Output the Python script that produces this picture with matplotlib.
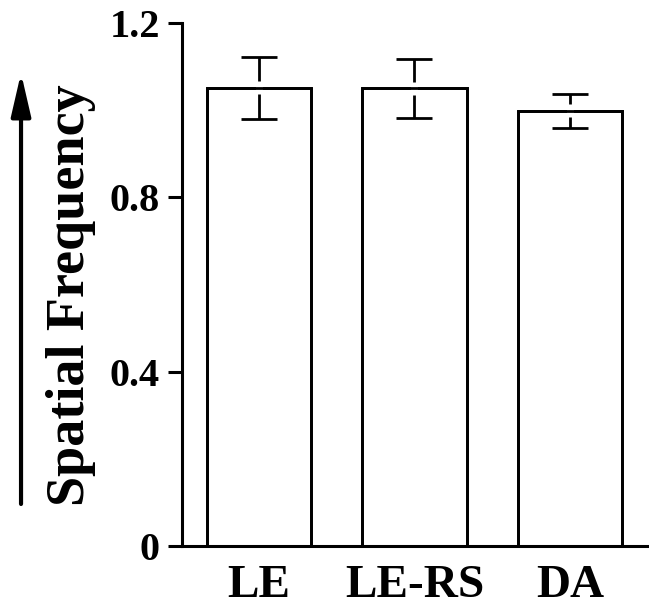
import matplotlib
matplotlib.use("Agg")
import matplotlib.pyplot as plt
import numpy as np

categories = ["LE", "LE-RS", "DA"]
means = [1.051, 1.050, 0.999]
errors = [0.071, 0.067, 0.039]
yticks = [0, 0.4, 0.8, 1.2]
ytick_labels = ["0", "0.4", "0.8", "1.2"]
ylabel = "Spatial Frequency"

plt.rcParams['font.family'] = ['Liberation Serif', 'DejaVu Serif']
plt.rcParams['font.weight'] = 'bold'

fig = plt.figure(figsize=(6.49, 6.12), dpi=100)
ax = fig.add_axes([0.2804, 0.1078, 0.718, 0.8546])

x = np.arange(len(categories))
width = 0.67
lw = 2.0

ax.bar(x, means, width=width, color='white', edgecolor='black', linewidth=lw, zorder=2)
ax.errorbar(x, means, yerr=errors, fmt='none', ecolor='black', elinewidth=2.0,
            capsize=13, capthick=2.0, zorder=3)
gap = 0.015
ax.vlines(x, np.array(means) - gap, np.array(means) + gap, colors='white', linewidth=5, zorder=4)
ax.bar(x, means, width=width, facecolor='none', edgecolor='black', linewidth=lw, zorder=5)

ax.set_xlim(-0.495, 2.502)
ax.set_ylim(0, 1.2)
ax.set_yticks(yticks)
ax.set_yticklabels(ytick_labels)
ax.set_xticks(x)
ax.set_xticklabels(categories)

for s in ['top', 'right']:
    ax.spines[s].set_visible(False)
for s in ['left', 'bottom']:
    ax.spines[s].set_linewidth(2.2)

ax.tick_params(axis='y', direction='out', length=10, width=2.2, pad=6, labelsize=29)
ax.tick_params(axis='x', length=0, pad=14, labelsize=34)
for lab in ax.get_yticklabels() + ax.get_xticklabels():
    lab.set_fontweight('bold')

fig.text(0.1094, 0.517, ylabel, rotation=90, ha='center', va='center',
         fontsize=39, fontweight='bold')

ax.annotate('', xy=(0.0324, 0.8807), xycoords='figure fraction',
            xytext=(0.0324, 0.1765), textcoords='figure fraction',
            arrowprops=dict(arrowstyle='-|>,head_length=26,head_width=6',
                            mutation_scale=1, lw=3, color='black',
                            shrinkA=0, shrinkB=0),
            annotation_clip=False)

fig.savefig("out.png", dpi=100)
